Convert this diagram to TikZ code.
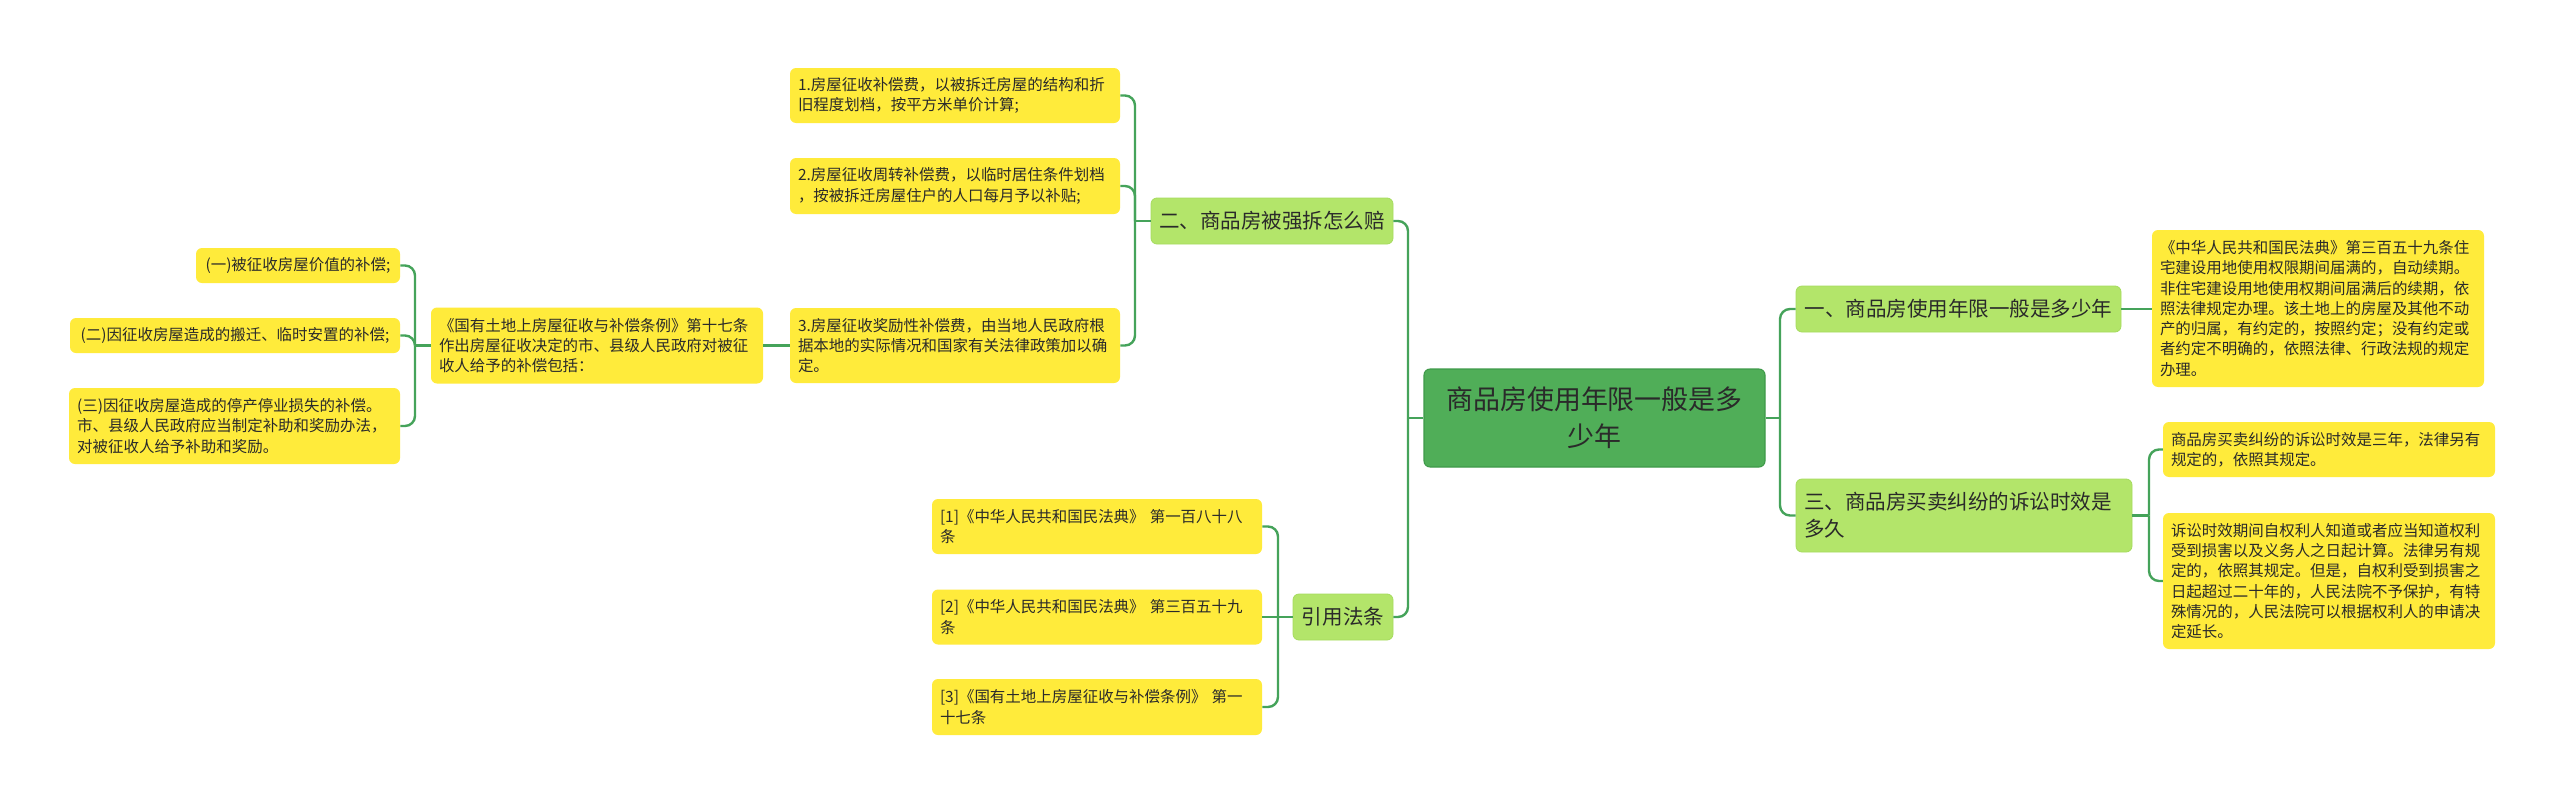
\documentclass[tikz,border=0pt]{standalone}
\usepackage{fontspec}
\setmainfont{Noto Sans CJK SC}
\definecolor{lineg}{HTML}{45A35A}
\definecolor{ctrg}{HTML}{50AE58}
\definecolor{ctrb}{HTML}{3F9A4A}
\definecolor{lvg}{HTML}{B3E56A}
\definecolor{lvb}{HTML}{A6DC5E}
\definecolor{yel}{HTML}{FFEB3B}
\definecolor{txt}{HTML}{2A2A2A}
\begin{document}
\begin{tikzpicture}[x=0.75pt,y=-0.75pt,
  base/.style={rectangle, rounded corners=4.5pt, inner ysep=0pt, inner xsep=6pt, text=txt, anchor=center},
  wh/.style 2 args={minimum width=#1*0.75pt, minimum height=#2*0.75pt},
  ybox/.style={base, fill=yel, align=left, font=\fontsize{11.6}{15.2}\selectfont},
  lbox/.style={base, fill=lvg, draw=lvb, line width=0.6pt, align=left, font=\fontsize{15.4}{20.5}\selectfont},
  cbox/.style={base, fill=ctrg, draw=ctrb, line width=0.8pt, align=center, font=\fontsize{20.2}{27.7}\selectfont},
  conn/.style={draw=lineg, line width=1.8pt, rounded corners=7.5pt}
]
\path[fill=white] (0,0) rectangle (2560,803);

% centre
\node[cbox, wh={341}{98}] (ctr) at (1594.5,418) {商品房使用年限一般是多\\少年};

% right side
\node[lbox, wh={325}{46}] (n1) at (1958.5,309) {一、商品房使用年限一般是多少年};
\node[ybox, wh={332}{157}, text width=237pt] (t1) at (2318,308.5) {《中华人民共和国民法典》第三百五十九条住\\宅建设用地使用权限期间届满的，自动续期。\\非住宅建设用地使用权期间届满后的续期，依\\照法律规定办理。该土地上的房屋及其他不动\\产的归属，有约定的，按照约定；没有约定或\\者约定不明确的，依照法律、行政法规的规定\\办理。};
\node[lbox, wh={336}{73}, text width=240pt] (n3) at (1964,515.5) {三、商品房买卖纠纷的诉讼时效是\\多久};
\node[ybox, wh={332}{55}, text width=237pt] (t3a) at (2329,449.5) {商品房买卖纠纷的诉讼时效是三年，法律另有\\规定的，依照其规定。};
\node[ybox, wh={332}{136}, text width=237pt] (t3b) at (2329,581) {诉讼时效期间自权利人知道或者应当知道权利\\受到损害以及义务人之日起计算。法律另有规\\定的，依照其规定。但是，自权利受到损害之\\日起超过二十年的，人民法院不予保护，有特\\殊情况的，人民法院可以根据权利人的申请决\\定延长。};

% left upper
\node[lbox, wh={242}{46}] (n2) at (1272,221) {二、商品房被强拆怎么赔};
\node[ybox, wh={330}{55}, text width=235.5pt] (b1) at (955,95.5) {1.房屋征收补偿费，以被拆迁房屋的结构和折\\旧程度划档，按平方米单价计算;};
\node[ybox, wh={330}{56}, text width=235.5pt] (b2) at (955,186) {2.房屋征收周转补偿费，以临时居住条件划档\\，按被拆迁房屋住户的人口每月予以补贴;};
\node[ybox, wh={330}{75}, text width=235.5pt] (b3) at (955,345.5) {3.房屋征收奖励性补偿费，由当地人民政府根\\据本地的实际情况和国家有关法律政策加以确\\定。};
\node[ybox, wh={332}{76}, text width=237pt] (gy) at (597,345.5) {《国有土地上房屋征收与补偿条例》第十七条\\作出房屋征收决定的市、县级人民政府对被征\\收人给予的补偿包括：};
\node[ybox, wh={204}{35}] (c1) at (298,265.5) {(一)被征收房屋价值的补偿;};
\node[ybox, wh={330}{35}] (c2) at (235,335.5) {(二)因征收房屋造成的搬迁、临时安置的补偿;};
\node[ybox, wh={331}{76}, text width=236pt] (c3) at (234.5,426) {(三)因征收房屋造成的停产停业损失的补偿。\\市、县级人民政府应当制定补助和奖励办法，\\对被征收人给予补助和奖励。};

% left lower
\node[lbox, wh={100}{46}] (ny) at (1343,617) {引用法条};
\node[ybox, wh={330}{55}, text width=235.5pt] (r1) at (1097,526.5) {[1]《中华人民共和国民法典》~第一百八十八\\条};
\node[ybox, wh={330}{55}, text width=235.5pt] (r2) at (1097,617) {[2]《中华人民共和国民法典》~第三百五十九\\条};
\node[ybox, wh={330}{56}, text width=235.5pt] (r3) at (1097,707) {[3]《国有土地上房屋征收与补偿条例》~第一\\十七条};

% connectors
\coordinate (jL) at (1408,418);
\coordinate (jR) at (1780,418);
\coordinate (j2) at (1135,221);
\coordinate (jg) at (415,345.5);
\coordinate (jy) at (1278,617);
\coordinate (j3) at (2149,515.5);

\draw[conn] (ctr.west) -- (jL);
\draw[conn] (jL) |- (n2.east);
\draw[conn] (jL) |- (ny.east);
\draw[conn] (ctr.east) -- (jR);
\draw[conn] (jR) |- (n1.west);
\draw[conn] (jR) |- (n3.west);

\draw[conn] (n1.east) -- (n1.east -| t1.west);
\draw[conn] (n3.east) -- (j3);
\draw[conn] (j3) |- (t3a.west);
\draw[conn] (j3) |- (t3b.west);

\draw[conn] (n2.west) -- (j2);
\draw[conn] (j2) |- (b1.east);
\draw[conn] (j2) |- (b2.east);
\draw[conn] (j2) |- (b3.east);
\draw[conn] (b3.west) -- (b3.west -| gy.east);

\draw[conn] (gy.west) -- (jg);
\draw[conn] (jg) |- (c1.east);
\draw[conn] (jg) |- (c2.east);
\draw[conn] (jg) |- (c3.east);

\draw[conn] (ny.west) -- (jy);
\draw[conn] (jy) |- (r1.east);
\draw[conn] (jy) -- (r2.east);
\draw[conn] (jy) |- (r3.east);
\end{tikzpicture}
\end{document}
